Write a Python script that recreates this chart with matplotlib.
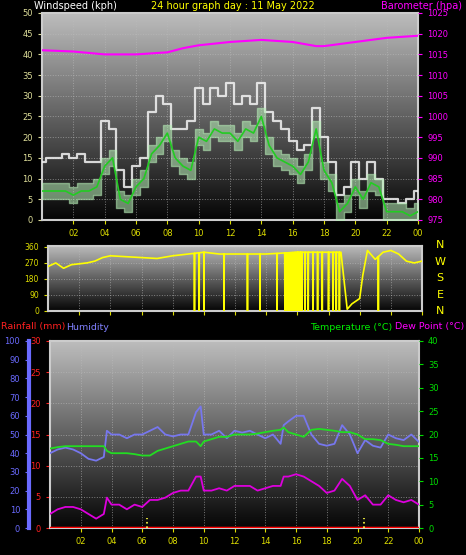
import numpy as np
import matplotlib
matplotlib.use("Agg")
import matplotlib.pyplot as plt
from matplotlib.colors import LinearSegmentedColormap

# ---------------- data ----------------
wind_hours = [0,0.5,1,1.5,2,2.5,3,3.5,4,4.5,5,5.5,6,6.5,7,7.5,8,8.5,9,9.5,10,10.5,11,11.5,12,12.5,13,13.5,14,14.5,15,15.5,16,16.5,17,17.5,18,18.5,19,19.5,20,20.5,21,21.5,22,22.5,23,23.5,24]
gust = [14,15,15,16,15,16,14,14,24,22,12,8,13,15,26,30,28,22,22,24,32,28,32,30,33,28,30,28,33,26,24,22,19,17,18,27,20,14,6,8,14,10,14,10,5,5,4,5,7]
avg_wind = [7,7,7,7,6,7,7,8,13,15,5,4,8,10,16,18,21,15,13,12,20,19,22,21,21,19,22,21,25,18,15,14,13,11,14,22,12,9,2,4,8,5,9,8,2,2,2,1,2]

baro_hours = [0,2,4,6,8,9,10,12,14,16,17.5,18,20,22,24]
baro = [1016,1015.7,1015,1015,1015.5,1016.5,1017.2,1018,1018.5,1018,1017,1017,1018,1019,1019.5]

dir_hours = [0,0.5,1,1.5,2,2.5,3,3.5,4,5,6,7,8,9,10,11,12,13,14,15,16,17,18,18.8,19.2,19.5,20,20.2,20.5,21,21.5,22,22.5,23,23.5,24]
direction = [250,270,240,260,265,270,280,300,310,305,300,295,310,320,330,320,320,320,320,325,330,330,330,330,10,40,70,200,340,290,330,340,320,280,270,280]
dir_drops = [9.4,9.7,10.0,11.3,12.8,13.6,14.7,15.2,15.3,15.4,15.5,15.6,15.7,15.8,15.9,16.0,16.1,16.2,16.3,16.5,16.7,17.0,17.3,17.6,18.0,18.3,18.5,18.7,21.2]

th_hours = [0,0.5,1,1.5,2,2.5,3,3.5,3.7,4,4.5,5,5.5,6,6.5,7,7.5,8,8.5,9,9.5,9.8,10,10.5,11,11.5,12,12.5,13,13.5,14,14.5,15,15.2,15.5,16,16.5,17,17.5,18,18.5,19,19.5,20,20.5,21,21.5,22,22.5,23,23.5,24]
humidity = [40,42,43,42,40,37,36,38,52,50,50,48,50,50,52,54,50,49,50,50,62,65,50,50,52,48,52,51,52,50,48,50,45,55,57,60,60,50,45,44,45,55,50,40,47,44,43,50,48,47,50,46]
temp = [17,17.3,17.5,17.5,17.5,17.5,17.5,17.5,16.5,16,16,16,15.8,15.5,15.5,16.5,17,17.5,18,18.5,18.5,17.5,18.5,19,19.5,19.5,20,20,20,20.2,20.5,20.8,21,21.5,20.5,20,19.5,21,21.2,21,20.8,20.5,20.5,20,19,19,18.8,18,17.8,17.5,17.5,17.5]
dew = [3,4,4.5,4.5,4,3,2,3,6.5,5,5,4,5,4.5,6,6,6.5,7.5,8,8,11,11,8,8,8.5,8,9,9,9,8,8.5,9,9,11,11,11.5,11,10,9,7.5,8,10.5,9,6,7,5,5,7,6,5.5,6,5]
rain_hours = [0,24]
rain = [0,0]
rain_rate_marks = [6.3,20.4]

hour_ticks = list(range(2,25,2))
hour_labels = ["02","04","06","08","10","12","14","16","18","20","22","00"]

W, H = 466, 555
fig = plt.figure(figsize=(W/100, H/100), dpi=100, facecolor="black")
plt.rcParams['font.family'] = ['DejaVu Sans']

grad = np.linspace(1, 0, 256).reshape(-1, 1)
cmap = LinearSegmentedColormap.from_list("g", ["#050505", "#bdbdbd"])

def base(ax):
    ax.set_facecolor("black")
    ax.imshow(grad, cmap=cmap, aspect="auto", extent=[0, 1, 0, 1],
              transform=ax.transAxes, zorder=0)
    ax.grid(True, color="#bbbbbb", linestyle=":", linewidth=0.7, alpha=0.6)
    for s in ax.spines.values():
        s.set_color("#cccccc")
        s.set_linewidth(1.5)
    ax.set_xlim(0, 24)
    ax.set_xticks(hour_ticks)
    ax.set_xticklabels(hour_labels)
    ax.tick_params(axis="x", colors="#dddd00", labelcolor="#dddd00", labelsize=6, length=3)

# ---------------- top panel ----------------
ax1 = fig.add_axes([42/W, 1-220/H, 376/W, 207/H])
base(ax1)
ax1.set_ylim(0, 50)
ax1.set_yticks(range(0, 51, 5))
ax1.tick_params(axis="y", colors="#dddd99", labelsize=6, length=3)
ax1.plot(wind_hours, gust, color="#f4f4f4", lw=1.6, alpha=0.85, zorder=3, drawstyle="steps-mid")
ax1.fill_between(wind_hours, np.array(avg_wind)-2, np.array(avg_wind)+2, step="mid",
                 color="#b8f0b8", alpha=0.55, zorder=4)
ax1.plot(wind_hours, avg_wind, color="#22cc22", lw=1.2, zorder=5)
ax1b = ax1.twinx()
ax1b.set_ylim(975, 1025)
ax1b.set_yticks(range(975, 1026, 5))
ax1b.tick_params(axis="y", colors="#ff00ff", labelsize=6, length=3)
for s in ax1b.spines.values():
    s.set_visible(False)
ax1b.plot(baro_hours, baro, color="#ff00ff", lw=1.5)
fig.text(34/W, 1-1/H, "Windspeed (kph)", color="white", fontsize=7, va="top")
fig.text(0.5, 1-1/H, "24 hour graph day : 11 May 2022", color="#ffff00", fontsize=7, va="top", ha="center")
fig.text(462/W, 1-1/H, "Barometer (hpa)", color="#ff00ff", fontsize=7, va="top", ha="right")

# ---------------- direction panel ----------------
ax2 = fig.add_axes([48/W, 1-311/H, 374/W, 65/H])
base(ax2)
ax2.set_ylim(0, 365)
ax2.set_yticks([0, 90, 180, 270, 360])
ax2.tick_params(axis="y", colors="#dddd00", labelsize=5.5, length=3)
ax2.tick_params(axis="x", labelbottom=False)
dh = list(dir_hours); dv = list(direction)
for d in dir_drops:
    v = float(np.interp(d, dir_hours, direction))
    dh += [d-0.01, d, d+0.01]; dv += [v, 0, v]
order = np.argsort(dh, kind="stable")
ax2.plot(np.array(dh)[order], np.array(dv)[order], color="#ffff00", lw=1.2, zorder=3)
for i, lab in enumerate(["N", "W", "S", "E", "N"]):
    fig.text(440/W, 1-(245+i*16.5)/H, lab, color="#ffff00", fontsize=8, ha="center", va="center")

# ---------------- bottom panel ----------------
ax3 = fig.add_axes([50/W, 1-528/H, 369/W, 187/H])
base(ax3)
ax3.set_ylim(0, 30)
ax3.set_yticks(range(0, 31, 5))
ax3.tick_params(axis="y", colors="#ff2020", labelsize=6, length=3)
ax3.plot(rain_hours, rain, color="#ff0000", lw=2.5, zorder=6)
for r in rain_rate_marks:
    ax3.vlines(r, 0, 1.6, color="#ffff44", linestyle=":", lw=1.2, zorder=6)

axh = ax3.twinx()
axh.set_ylim(0, 100)
axh.yaxis.set_ticks_position("left")
axh.spines["left"].set_position(("outward", 15))
axh.spines["left"].set_color("#6a6aff")
axh.spines["left"].set_linewidth(3)
for k in ("right", "top", "bottom"):
    axh.spines[k].set_visible(False)
axh.set_yticks(range(0, 101, 10))
axh.tick_params(axis="y", colors="#6a6aff", labelsize=6, length=3)
axh.plot(th_hours, humidity, color="#7777ee", lw=1.3, zorder=3)

axt = ax3.twinx()
axt.set_ylim(0, 40)
axt.set_yticks(range(0, 41, 5))
axt.tick_params(axis="y", colors="#00dd00", labelsize=6, length=3)
for k in ("left", "top", "bottom", "right"):
    axt.spines[k].set_visible(False)
axt.plot(th_hours, temp, color="#22dd22", lw=1.3)
axt.plot(th_hours, dew, color="#dd00dd", lw=1.3)

fig.text(1/W, 1-327/H, "Rainfall (mm)", color="#ff2020", fontsize=6.8, va="center")
fig.text(66/W, 1-327/H, "Humidity", color="#8080ff", fontsize=6.8, va="center")
fig.text(392/W, 1-327/H, "Temperature (°C)", color="#00ee00", fontsize=6.8, va="center", ha="right")
fig.text(464/W, 1-327/H, "Dew Point (°C)", color="#ff00ff", fontsize=6.8, va="center", ha="right")

fig.savefig("out.png", dpi=100, facecolor="black")
